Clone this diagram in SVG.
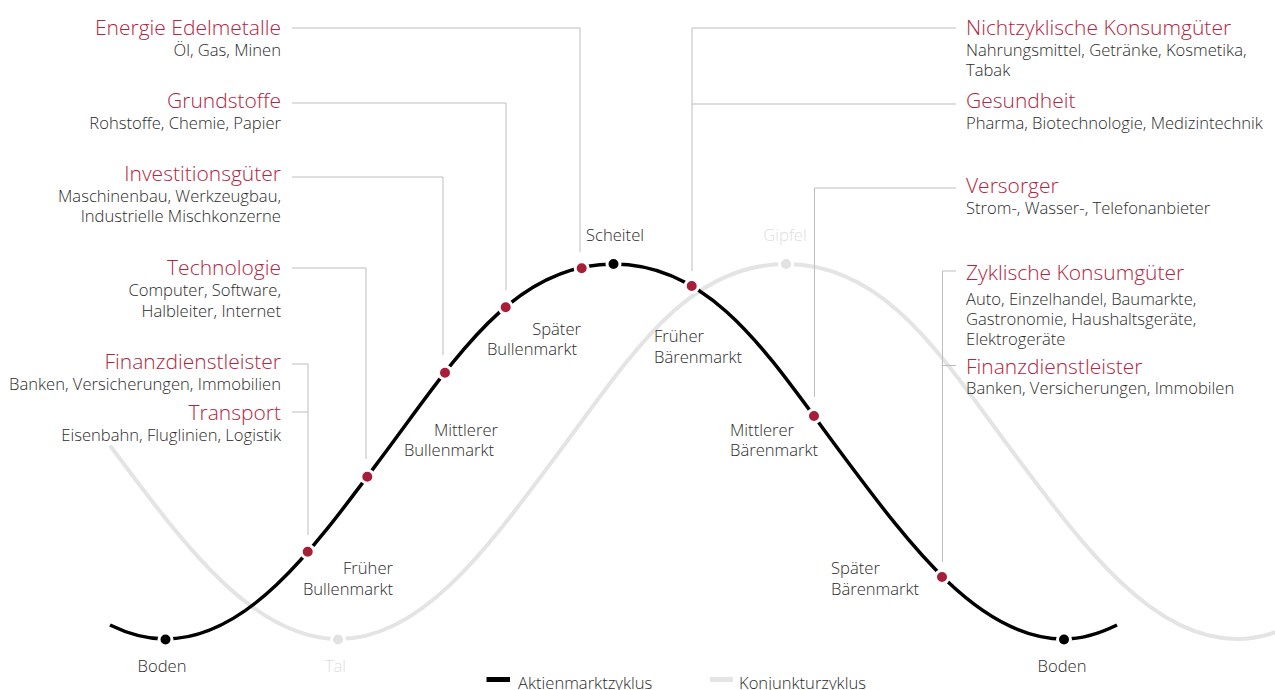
<svg xmlns="http://www.w3.org/2000/svg" width="1275" height="690" viewBox="0 0 1275 690">
<style>
text{font-family:"Open Sans","Noto Sans","Liberation Sans",sans-serif;font-weight:300}
.t{fill:#b2263f;font-size:21px}
.s{fill:#2b2b2b;font-size:16.6px}
.p{fill:#2b2b2b;font-size:16.6px}
.g{fill:#dedede;font-size:16.6px}
.r{text-anchor:end}
.m{text-anchor:middle}
.con{fill:none;stroke:#bdbdbd;stroke-width:1}
.curveB{fill:none;stroke:#000;stroke-width:3.5}
.curveG{fill:none;stroke:#e4e4e4;stroke-width:4}
.dr{fill:#a61e38;stroke:#fff;stroke-width:3}
.db{fill:#000;stroke:#fff;stroke-width:3}
.dg{fill:#e2e2e2;stroke:#fff;stroke-width:3}
</style>
<rect width="1275" height="690" fill="#fff"/>
<g id="curves">
<path id="konjunktur" class="curveG" d="M110,445.5 L114.5,451.5 C184.5,545.3 253.5,639 338.5,639 C423.5,639 489.5,545.3 559.5,451.5 C629.5,357.7 686,264 786,264 C886,264 942.5,357.7 1012.5,451.5 C1082.5,545.3 1151.5,639 1236.5,639 C1321.5,639 1387.5,545.3 1457.5,451.5"/>
<path id="aktien" class="curveB" d="M110,625 C128,633.8 147,639 165,639 C250,639 316,545.3 386,451.5 C456,357.7 513.5,264 613.5,264 C713.5,264 770,357.7 840,451.5 C910,545.3 979,639 1064,639 C1082,639 1099,633.8 1117,625"/>
</g>
<g id="connectors">
<polyline class="con" points="292,28 580,28 580,252"/>
<polyline class="con" points="292,103 506,103 506,290"/>
<polyline class="con" points="292,177 443,177 443,355"/>
<polyline class="con" points="292,268 366,268 366,459"/>
<polyline class="con" points="292,364 308,364 308,535"/>
<line class="con" x1="292" y1="412" x2="308" y2="412"/>
<polyline class="con" points="956,28 692,28 692,271"/>
<line class="con" x1="692" y1="104" x2="956" y2="104"/>
<polyline class="con" points="956,188 814.5,188 814.5,397"/>
<polyline class="con" points="956,271 942.5,271 942.5,562"/>
<line class="con" x1="942.5" y1="365.5" x2="956" y2="365.5"/>
</g>
<g id="dots">
<circle class="dg" cx="338" cy="639.5" r="6.5"/>
<circle class="dg" cx="786" cy="264" r="6.5"/>
<circle class="db" cx="165.5" cy="639.5" r="6.5"/>
<circle class="db" cx="613.5" cy="264" r="6.5"/>
<circle class="db" cx="1064" cy="639.5" r="6.5"/>
<circle class="dr" cx="307.7" cy="551.7" r="6.5"/>
<circle class="dr" cx="367.3" cy="476.7" r="6.5"/>
<circle class="dr" cx="445" cy="372.7" r="6.5"/>
<circle class="dr" cx="505.7" cy="307.3" r="6.5"/>
<circle class="dr" cx="581.7" cy="268.3" r="6.5"/>
<circle class="dr" cx="691.7" cy="286" r="6.5"/>
<circle class="dr" cx="814" cy="416" r="6.5"/>
<circle class="dr" cx="942" cy="577" r="6.5"/>
</g>
<g id="n-energie"><text class="t r" x="281" y="35">Energie Edelmetalle</text><text class="s r" x="281" y="56">Öl, Gas, Minen</text></g>
<g id="n-grundstoffe"><text class="t r" x="281" y="108">Grundstoffe</text><text class="s r" x="281" y="129">Rohstoffe, Chemie, Papier</text></g>
<g id="n-investition"><text class="t r" x="281" y="181">Investitionsgüter</text><text class="s r" x="281" y="202">Maschinenbau, Werkzeugbau,</text><text class="s r" x="281" y="222">Industrielle Mischkonzerne</text></g>
<g id="n-technologie"><text class="t r" x="281" y="275">Technologie</text><text class="s r" x="281" y="296">Computer, Software,</text><text class="s r" x="281" y="316.5">Halbleiter, Internet</text></g>
<g id="n-finanz-links"><text class="t r" x="281" y="369">Finanzdienstleister</text><text class="s r" x="281" y="389.5">Banken, Versicherungen, Immobilien</text></g>
<g id="n-transport"><text class="t r" x="281" y="420">Transport</text><text class="s r" x="281" y="440.5">Eisenbahn, Fluglinien, Logistik</text></g>
<g id="n-nichtzyklisch"><text class="t" x="966" y="35">Nichtzyklische Konsumgüter</text><text class="s" x="966" y="55.5">Nahrungsmittel, Getränke, Kosmetika,</text><text class="s" x="966" y="76">Tabak</text></g>
<g id="n-gesundheit"><text class="t" x="966" y="108">Gesundheit</text><text class="s" x="966" y="128.5">Pharma, Biotechnologie, Medizintechnik</text></g>
<g id="n-versorger"><text class="t" x="966" y="193">Versorger</text><text class="s" x="966" y="213.5">Strom-, Wasser-, Telefonanbieter</text></g>
<g id="n-zyklisch"><text class="t" x="966" y="280">Zyklische Konsumgüter</text><text class="s" x="966" y="305">Auto, Einzelhandel, Baumarkte,</text><text class="s" x="966" y="325">Gastronomie, Haushaltsgeräte,</text><text class="s" x="966" y="345">Elektrogeräte</text></g>
<g id="n-finanz-rechts"><text class="t" x="966" y="373.5">Finanzdienstleister</text><text class="s" x="966" y="393.5">Banken, Versicherungen, Immobilen</text></g>
<g id="phases">
<text class="p" x="586" y="241">Scheitel</text>
<text class="p r" x="581" y="334.5">Später</text><text class="p r" x="577" y="355">Bullenmarkt</text>
<text class="p" x="654" y="342">Früher</text><text class="p" x="654" y="362.5">Bärenmarkt</text>
<text class="p r" x="498" y="436">Mittlerer</text><text class="p r" x="494" y="456">Bullenmarkt</text>
<text class="p" x="730" y="436">Mittlerer</text><text class="p" x="730" y="456">Bärenmarkt</text>
<text class="p r" x="393" y="574">Früher</text><text class="p r" x="393" y="595">Bullenmarkt</text>
<text class="p" x="831" y="573.5">Später</text><text class="p" x="831" y="595">Bärenmarkt</text>
<text class="p m" x="162" y="672">Boden</text>
<text class="p m" x="1062" y="672">Boden</text>
<text class="g m" x="335.5" y="672">Tal</text>
<text class="g m" x="785" y="241">Gipfel</text>
</g>
<g id="legend">
<rect x="486.5" y="677" width="23.5" height="5" fill="#000"/>
<text class="p" x="518" y="688.5">Aktienmarktzyklus</text>
<rect x="710" y="677" width="23" height="5" fill="#e4e4e4"/>
<text class="p" x="739" y="688.5">Konjunkturzyklus</text>
</g>
</svg>
